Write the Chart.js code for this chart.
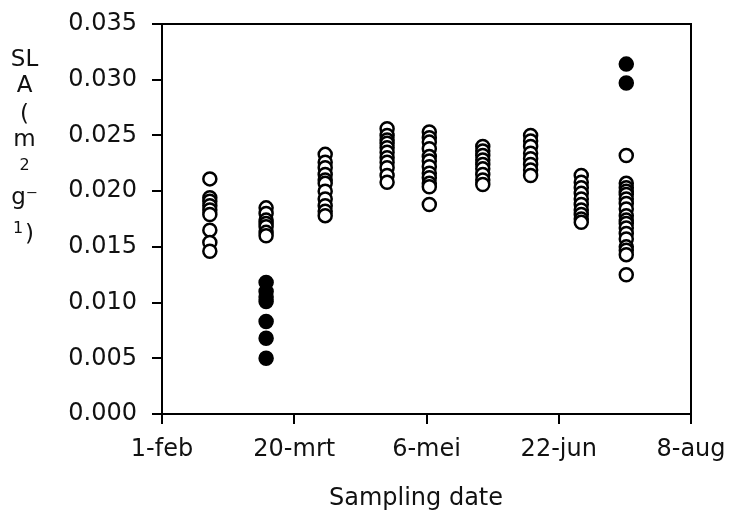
<!DOCTYPE html>
<html>
<head>
<meta charset="utf-8">
<script src="https://cdn.jsdelivr.net/npm/chart.js@4/dist/chart.umd.min.js"></script>
<style>
  body { margin: 0; background: #fff; }
  #wrap { position: relative; width: 729px; height: 510px; }
  .lbl { position: absolute; font-family: 'DejaVu Sans', Verdana, sans-serif; color: #111; white-space: nowrap; text-align: center; }
  #yTitle span { left: 0; width: 49px; font-size: 23px; line-height: 23px; }
  #xTitle { left: 316px; top: 485px; width: 200px; font-size: 24px; line-height: 24px; }
</style>
</head>
<body>
<div id="wrap">
  <canvas id="chart" width="729" height="510"></canvas>
  <div id="yTitle">
    <span class="lbl" style="top:47px">SL</span>
    <span class="lbl" style="top:73px">A</span>
    <span class="lbl" style="top:102px">(</span>
    <span class="lbl" style="top:127px">m</span>
    <span class="lbl" style="top:157px;font-size:16px;line-height:16px">2</span>
    <span class="lbl" style="top:185px">g⁻</span>
    <span class="lbl" style="top:222px"><span style="position:relative;left:-2px;top:-8px;font-size:16px">1</span>)</span>
  </div>
  <span id="xTitle" class="lbl">Sampling date</span>
</div>
<script>
// days after 1 February
const sampleDays = [17, 37, 58, 80, 95, 114, 131, 149, 165];

// SLA (m2 g-1), open symbols, one list per sampling date
const openSLA = [
  [0.0211, 0.0194, 0.0191, 0.0187, 0.0183, 0.0179, 0.0165, 0.0154, 0.0146],
  [0.0185, 0.0180, 0.0174, 0.0171, 0.0168, 0.0163, 0.0160],
  [0.0233, 0.0226, 0.0221, 0.0215, 0.0210, 0.0207, 0.0200, 0.0193, 0.0187, 0.0182, 0.0178],
  [0.0256, 0.0250, 0.0246, 0.0243, 0.0239, 0.0235, 0.0230, 0.0226, 0.0221, 0.0214, 0.0208],
  [0.0253, 0.0248, 0.0244, 0.0238, 0.0231, 0.0227, 0.0222, 0.0216, 0.0212, 0.0207, 0.0204, 0.0188],
  [0.0240, 0.0236, 0.0232, 0.0228, 0.0224, 0.0220, 0.0215, 0.0210, 0.0206],
  [0.0250, 0.0245, 0.0240, 0.0234, 0.0229, 0.0224, 0.0219, 0.0214],
  [0.0214, 0.0208, 0.0203, 0.0198, 0.0193, 0.0188, 0.0183, 0.0179, 0.0175, 0.0172],
  [0.0232, 0.0207, 0.0203, 0.0200, 0.0197, 0.0193, 0.0189, 0.0184, 0.0178, 0.0174, 0.0171, 0.0167, 0.0162, 0.0157, 0.0150, 0.0147, 0.0143, 0.0125]
];

// filled symbols
const filledSLA = [
  [],
  [0.0118, 0.0110, 0.0105, 0.0101, 0.0083, 0.0068, 0.0050],
  [], [], [], [], [], [],
  [0.0314, 0.0297]
];

const tickDays = [0, 47, 94, 141, 188];
const tickLabels = ['1-feb', '20-mrt', '6-mei', '22-jun', '8-aug'];

function toPoints(groups) {
  const pts = [];
  groups.forEach((vals, i) => {
    vals.forEach(v => pts.push({ x: sampleDays[i], y: v }));
  });
  return pts;
}

const font = { family: "'DejaVu Sans', Verdana, sans-serif", size: 24 };
const ink = '#111';

// box around the plot area
const frame = {
  id: 'frame',
  afterDraw(chart) {
    const a = chart.chartArea;
    const ctx = chart.ctx;
    ctx.save();
    ctx.strokeStyle = '#000';
    ctx.lineWidth = 2;
    ctx.strokeRect(a.left, a.top, a.right - a.left, a.bottom - a.top);
    ctx.restore();
  }
};

new Chart(document.getElementById('chart'), {
  type: 'scatter',
  data: {
    datasets: [
      {
        data: toPoints(openSLA),
        pointRadius: 6.5,
        pointBorderWidth: 2.5,
        borderWidth: 2.5,
        borderColor: '#000',
        backgroundColor: '#fff'
      },
      {
        data: toPoints(filledSLA),
        pointRadius: 7,
        pointBorderWidth: 1.5,
        borderWidth: 1.5,
        borderColor: '#000',
        backgroundColor: '#000'
      }
    ]
  },
  options: {
    responsive: false,
    animation: false,
    layout: { padding: { left: 0, right: 38, top: 24, bottom: 0 } },
    plugins: { legend: { display: false }, tooltip: { enabled: false } },
    scales: {
      x: {
        type: 'linear',
        min: 0,
        max: 188,
        afterFit(s) { s.height = 96; s.paddingLeft = 0; s.paddingRight = 0; },
        afterBuildTicks(s) { s.ticks = tickDays.map(v => ({ value: v })); },
        grid: { drawOnChartArea: false, tickLength: 10, color: '#000', lineWidth: 2 },
        border: { color: '#000', width: 2 },
        ticks: {
          font, color: ink, padding: 11, maxRotation: 0,
          callback: v => tickLabels[tickDays.indexOf(v)]
        }
      },
      y: {
        min: 0,
        max: 0.035,
        afterFit(s) { s.width = 162; s.paddingTop = 0; s.paddingBottom = 0; },
        grid: { drawOnChartArea: false, tickLength: 10, color: '#000', lineWidth: 2 },
        border: { color: '#000', width: 2 },
        ticks: {
          stepSize: 0.005, font, color: ink, padding: 15,
          callback: v => Number(v).toFixed(3)
        }
      }
    }
  },
  plugins: [frame]
});
</script>
</body>
</html>
